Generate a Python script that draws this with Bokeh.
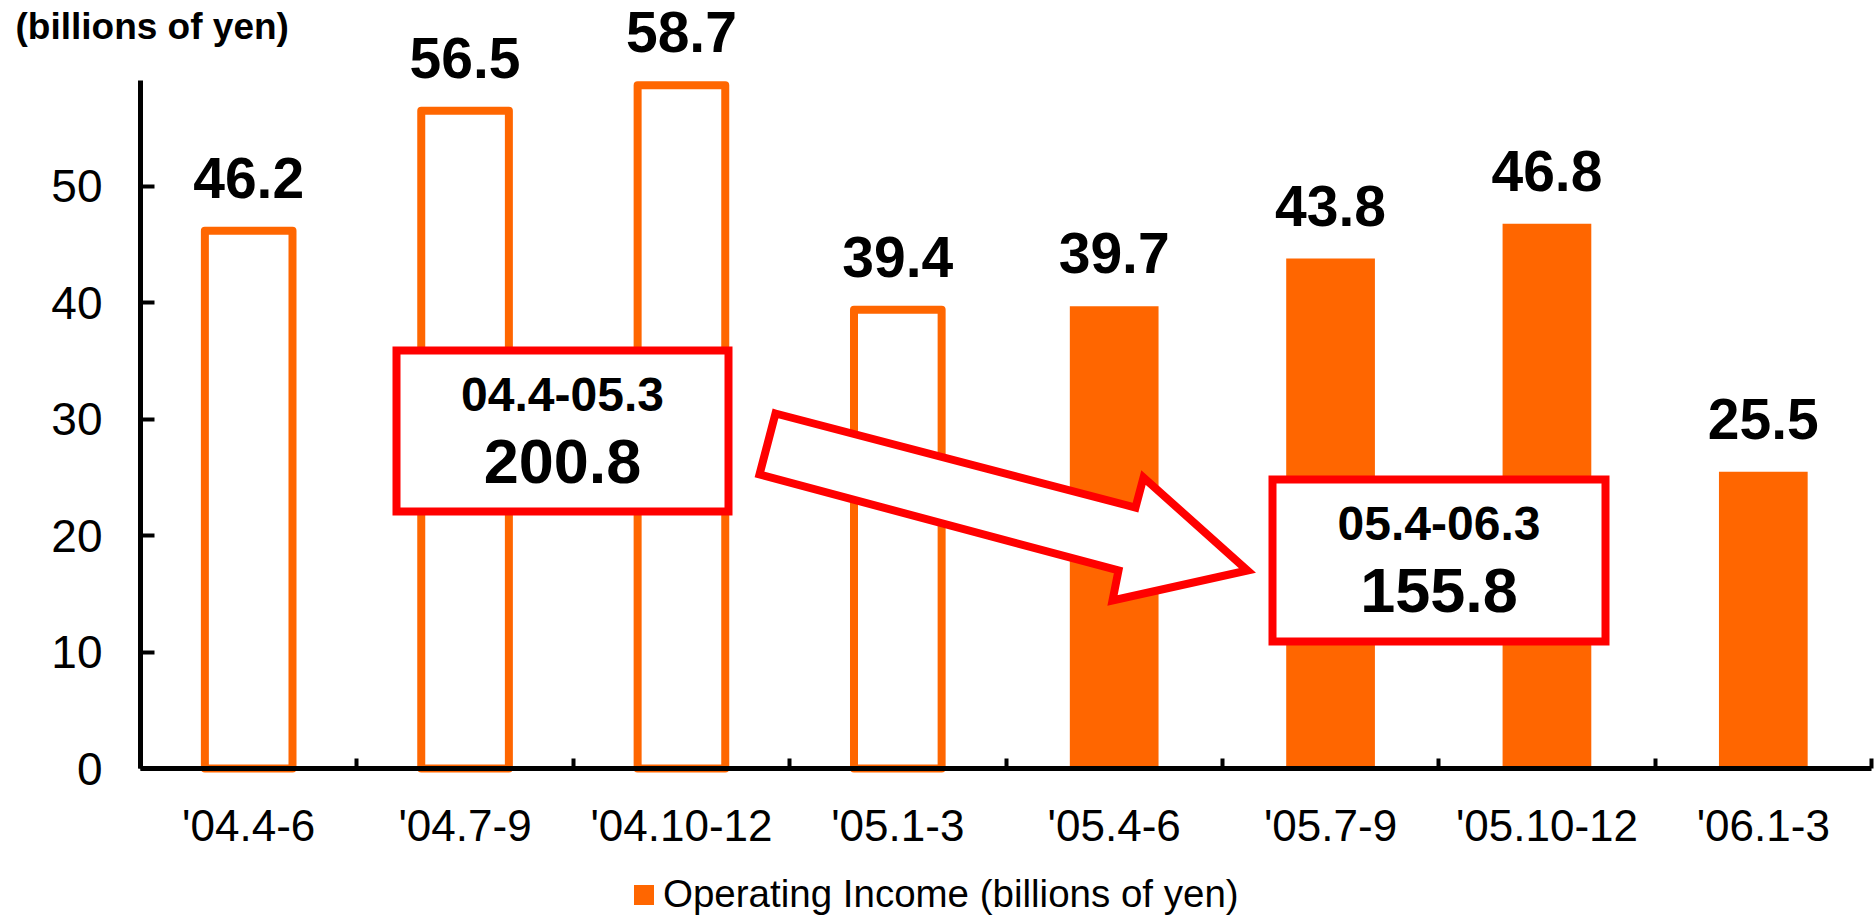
from bokeh.plotting import figure
from bokeh.models import Range1d, FixedTicker, ColumnDataSource, LabelSet, Label, Legend, LegendItem
from bokeh.core.properties import value
from bokeh.embed import file_html
from bokeh.resources import INLINE

# ---------------- data ----------------
categories = ["'04.4-6", "'04.7-9", "'04.10-12", "'05.1-3",
              "'05.4-6", "'05.7-9", "'05.10-12", "'06.1-3"]
income_prev_year = [46.2, 56.5, 58.7, 39.4]   # '04.4 - '05.3 (outlined bars)
income_this_year = [39.7, 43.8, 46.8, 25.5]   # '05.4 - '06.3 (filled bars)
y_ticks = [0, 10, 20, 30, 40, 50]
unit_label = "(billions of yen)"
legend_label = "Operating Income (billions of yen)"
period_labels = ["04.4-05.3", "05.4-06.3"]

# ---------------- style / layout ----------------
ORANGE = "#FF6600"
RED = "#FF0000"
FONT = "Liberation Sans"
W, H = 1876, 916
AL, AR, AT, AB = 140, 1871, 80, 768      # axis box edges in px
Y_MAX = 59.1
n = len(categories)


def dx(px):
    return (px - AL) * n / (AR - AL)


def dy(py):
    return (AB - py) * Y_MAX / (AB - AT)


xs = [i + 0.5 for i in range(n)]
x_prev = xs[:len(income_prev_year)]
x_this = xs[len(income_prev_year):]

# the frame covers the whole canvas; axes are pinned at data 0
p = figure(width=W, height=H, x_range=Range1d(dx(0), dx(W)), y_range=Range1d(dy(H), dy(0)),
           output_backend="svg", toolbar_location=None,
           min_border_left=0, min_border_right=0, min_border_top=0, min_border_bottom=0)
p.outline_line_color = None
p.grid.visible = False
p.background_fill_color = "white"
p.border_fill_color = "white"

# bars
p.vbar(x=x_prev, top=income_prev_year, bottom=0, width=0.405,
       fill_color="white", line_color=ORANGE, line_width=8, line_join="round")
filled = p.vbar(x=x_this, top=income_this_year, bottom=0, width=0.41,
                fill_color=ORANGE, line_color=None)

# value labels
all_vals = income_prev_year + income_this_year
src = ColumnDataSource(dict(x=xs, top=all_vals, label=[f"{v:.1f}" for v in all_vals]))
p.add_layout(LabelSet(x="x", y="top", text="label", source=src, y_offset=33,
                      text_align="center", text_baseline="alphabetic",
                      text_font=value(FONT), text_font_style="bold",
                      text_font_size="57px", text_color="black"))

# arrow
arrow_px = [(775, 413), (1135, 507), (1143, 477), (1247, 570),
            (1112, 600), (1118, 570), (759, 474)]
p.patch([dx(a) for a, b in arrow_px], [dy(b) for a, b in arrow_px],
        fill_color="white", line_color=RED, line_width=8, line_join="miter")

# summary boxes
boxes = [(396, 728, 350, 511), (1272, 1605, 479, 641)]
totals = [sum(income_prev_year), sum(income_this_year)]
for (l, r, t, b), per, tot in zip(boxes, period_labels, totals):
    p.quad(left=[dx(l)], right=[dx(r)], top=[dy(t)], bottom=[dy(b)],
           fill_color="white", line_color=RED, line_width=8, line_join="miter")
    cx = (l + r) / 2
    p.add_layout(Label(x=dx(cx), y=dy(t + 44), text=per, text_align="center",
                       text_baseline="middle", text_font=FONT,
                       text_font_style="bold", text_font_size="48px", text_color="black"))
    p.add_layout(Label(x=dx(cx), y=dy(t + 111), text=f"{tot:.1f}", text_align="center",
                       text_baseline="middle", text_font=FONT,
                       text_font_style="bold", text_font_size="63px", text_color="black"))

# unit label
p.add_layout(Label(x=dx(15), y=dy(26), text=unit_label, text_align="left",
                   text_baseline="middle", text_font=FONT,
                   text_font_style="bold", text_font_size="37px", text_color="black"))

# axes
xa = p.xaxis[0]
xa.fixed_location = 0
xa.bounds = (0, n)
xa.ticker = FixedTicker(ticks=xs, minor_ticks=list(range(n + 1)))
xa.major_label_overrides = {x: c for x, c in zip(xs, categories)}
xa.major_tick_line_color = None
xa.major_tick_in = 0
xa.major_tick_out = 0
xa.minor_tick_in = 10
xa.minor_tick_out = 0
xa.minor_tick_line_width = 4
xa.minor_tick_line_color = "black"
xa.axis_line_width = 5
xa.axis_line_color = "black"
xa.major_label_text_font = FONT
xa.major_label_text_font_size = "44px"
xa.major_label_text_color = "black"
xa.major_label_standoff = 32

ya = p.yaxis[0]
ya.fixed_location = 0
ya.bounds = (0, Y_MAX)
ya.ticker = FixedTicker(ticks=y_ticks)
ya.major_tick_in = 14
ya.major_tick_out = 0
ya.major_tick_line_width = 4
ya.major_tick_line_color = "black"
ya.minor_tick_line_color = None
ya.axis_line_width = 5
ya.axis_line_color = "black"
ya.major_label_text_font = FONT
ya.major_label_text_font_size = "46px"
ya.major_label_text_color = "black"
ya.major_label_standoff = 38

# legend
legend = Legend(items=[LegendItem(label=legend_label, renderers=[filled])],
                location=(631, 0), orientation="horizontal",
                glyph_width=25, glyph_height=25, label_standoff=7,
                label_text_font=FONT, label_text_font_size="38.5px",
                label_text_color="black",
                padding=0, margin=0, spacing=0,
                border_line_color=None, background_fill_alpha=0)
p.add_layout(legend)

open("out.html", "w").write(file_html(p, INLINE))
